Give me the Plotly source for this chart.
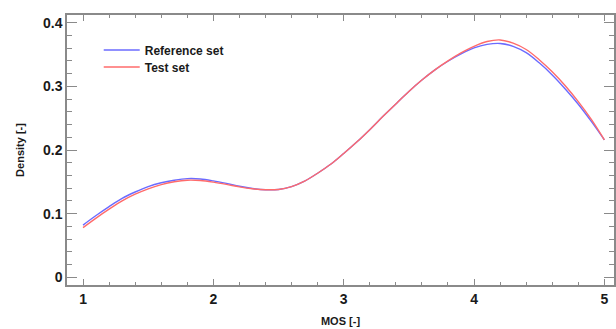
import plotly.graph_objects as go

mos = [1.0, 1.1, 1.2, 1.3, 1.4, 1.5, 1.6, 1.7, 1.8, 1.9,
       2.0, 2.1, 2.2, 2.3, 2.4, 2.5, 2.6, 2.7, 2.8, 2.9,
       3.0, 3.1, 3.2, 3.3, 3.4, 3.5, 3.6, 3.7, 3.8, 3.9,
       4.0, 4.1, 4.2, 4.3, 4.4, 4.5, 4.6, 4.7, 4.8, 4.9, 5.0]

reference_set = [0.082, 0.097, 0.111, 0.124, 0.134, 0.1425, 0.1485, 0.1525, 0.155, 0.1545,
                 0.1515, 0.1475, 0.143, 0.1395, 0.1375, 0.138, 0.1425, 0.151, 0.1635, 0.1775,
                 0.1945, 0.2125, 0.232, 0.2525, 0.2725, 0.292, 0.310, 0.326, 0.3395, 0.351,
                 0.3605, 0.366, 0.3675, 0.363, 0.353, 0.337, 0.318, 0.296, 0.272, 0.245, 0.216]

test_set = [0.078, 0.093, 0.107, 0.120, 0.1305, 0.139, 0.1455, 0.150, 0.1525, 0.152,
            0.1495, 0.146, 0.142, 0.139, 0.1375, 0.138, 0.1425, 0.151, 0.1635, 0.1775,
            0.1945, 0.2125, 0.232, 0.2525, 0.2725, 0.292, 0.310, 0.326, 0.340, 0.3525,
            0.363, 0.3705, 0.373, 0.368, 0.358, 0.342, 0.323, 0.301, 0.276, 0.248, 0.216]

x_ticks = [1, 2, 3, 4, 5]
y_ticks = [0, 0.1, 0.2, 0.3, 0.4]
y_tick_labels = ["0", "0.1", "0.2", "0.3", "0.4"]

FONT = "Liberation Sans, Arial, sans-serif"
legend_font = dict(family=FONT, size=12, color="#1a1a1a")

fig = go.Figure()
fig.add_trace(go.Scatter(x=mos, y=reference_set, mode="lines", name="<b>Reference set</b>",
                         line=dict(color="#6b6bff", width=1.4, shape="spline"), legend="legend"))
fig.add_trace(go.Scatter(x=mos, y=test_set, mode="lines", name="<b>Test set</b>",
                         line=dict(color="#ff6b6b", width=1.4, shape="spline"), legend="legend2"))

axis_color = "#8a8a8a"
tick_font = dict(family=FONT, size=14, color="#1a1a1a")

fig.update_layout(
    width=616, height=329,
    margin=dict(l=67, r=0, t=15, b=44),
    paper_bgcolor="white", plot_bgcolor="white",
    showlegend=True,
    legend=dict(x=0.058, y=0.924, xanchor="left", yanchor="top",
                bgcolor="rgba(0,0,0,0)", borderwidth=0, font=legend_font, itemwidth=36),
    legend2=dict(x=0.058, y=0.861, xanchor="left", yanchor="top",
                 bgcolor="rgba(0,0,0,0)", borderwidth=0, font=legend_font, itemwidth=36),
    xaxis=dict(range=[0.877, 5.074], tickvals=x_ticks, ticktext=[f"<b>{v}</b>" for v in x_ticks],
               ticks="inside", ticklen=6, tickwidth=1.2, tickcolor=axis_color,
               minor=dict(dtick=0.2, tick0=1, ticks="inside", ticklen=3, tickcolor=axis_color, tickwidth=1),
               showline=True, linecolor=axis_color, linewidth=1.5, mirror="ticks",
               showgrid=False, zeroline=False, tickfont=tick_font,
               title=dict(text="<b>MOS [-]</b>", standoff=12,
                          font=dict(family=FONT, size=11, color="#1a1a1a"))),
    yaxis=dict(range=[-0.0122, 0.4122], tickvals=y_ticks, ticktext=[f"<b>{t}</b>" for t in y_tick_labels],
               ticks="inside", ticklen=10, tickwidth=1.2, tickcolor=axis_color,
               minor=dict(dtick=0.02, tick0=0, ticks="inside", ticklen=5, tickcolor=axis_color, tickwidth=1),
               showline=True, linecolor=axis_color, linewidth=1.5, mirror="ticks",
               showgrid=False, zeroline=False, tickfont=tick_font,
               title=dict(text="<b>Density [-]</b>", standoff=16,
                          font=dict(family=FONT, size=11, color="#1a1a1a"))),
)

fig.write_html("out.html")
